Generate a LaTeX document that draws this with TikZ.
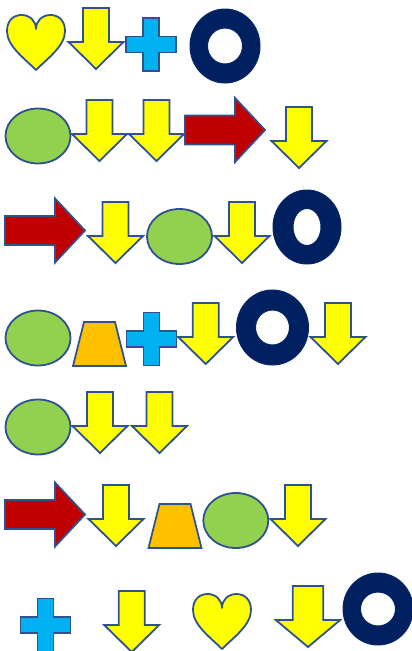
\documentclass[tikz,border=0pt]{standalone}
\definecolor{edge}{HTML}{2F528F}
\definecolor{arrowyellow}{HTML}{FFFF00}
\definecolor{crossblue}{HTML}{00B0F0}
\definecolor{ringblue}{HTML}{002060}
\definecolor{blobgreen}{HTML}{92D050}
\definecolor{arrowred}{HTML}{C00000}
\definecolor{trapgold}{HTML}{FFC000}
\begin{document}
\begin{tikzpicture}[x=1pt,y=-1pt,line join=miter,
		downarr/.style={draw=edge,line width=1.8pt,fill=arrowyellow},
		rightarr/.style={draw=edge,line width=1.8pt,fill=arrowred},
		crossfill/.style={draw=edge,line width=1.8pt,fill=crossblue},
		blobfill/.style={draw=edge,line width=1.8pt,fill=blobgreen},
		trapfill/.style={draw=edge,line width=1.8pt,fill=trapgold},
		heartfill/.style={draw=edge,line width=1.8pt,fill=arrowyellow,line join=round},
		ringfill/.style={draw=ringblue!85!edge,line width=1pt,fill=ringblue,even odd rule}]
		\useasboundingbox (0,0) rectangle (412,651);
		% shapes, all placed by pixel position (y grows downward)
		\def\darr(#1,#2,#3){\draw[downarr,shift={(#1,#2)},xscale=#3] (-13,0)--(13,0)--(13,34)--(27.5,34)--(0,61)--(-27.5,34)--(-13,34)--cycle;}
		\def\rarr(#1,#2){\draw[rightarr,shift={(#1,#2)}] (0,-14.5)--(50,-14.5)--(50,-32)--(80,0)--(50,32)--(50,14.5)--(0,14.5)--cycle;}
		\def\cross(#1,#2){\draw[crossfill,shift={(#1,#2)}] (-8,-26.5)--(8,-26.5)--(8,-8)--(25,-8)--(25,8)--(8,8)--(8,26.5)--(-8,26.5)--(-8,8)--(-25,8)--(-25,-8)--(-8,-8)--cycle;}
		\def\blob(#1,#2){\draw[blobfill] (#1,#2) ellipse[x radius=32.5,y radius=27.5];}
		\def\trap(#1,#2){\draw[trapfill,shift={(#1,#2)}] (-15.5,0)--(15.5,0)--(26.5,44)--(-26.5,44)--cycle;}
		\def\heart(#1,#2){\draw[heartfill,shift={(#1,#2)}] (0,55) .. controls (-12,43) and (-29,31) .. (-29,16) .. controls (-29,5) and (-22,0) .. (-14.5,0) .. controls (-6,0) and (0,6) .. (0,14) .. controls (0,6) and (6,0) .. (14.5,0) .. controls (22,0) and (29,5) .. (29,16) .. controls (29,31) and (12,43) .. (0,55) -- cycle;}
		\def\ring(#1,#2,#3,#4,#5,#6){\filldraw[ringfill] (#1,#2) ellipse[x radius=#3,y radius=#4] (#1,#2) ellipse[x radius=#5,y radius=#6];}
		% row 1
		\heart(36,15)
		\darr(96,8,1)
		\cross(151,44.5)
		\ring(225,46,35,37,17.5,18)
		% row 2
		\blob(38,136)
		\darr(99.5,100,1)
		\darr(156.5,100,1)
		\rarr(185,130)
		\darr(299,107,1)
		% row 3
		\rarr(5,230.5)
		\darr(115.5,202,1)
		\blob(179.5,236.5)
		\darr(242,202,1)
		\ring(307,227,34,37,14,18.5)
		% row 4
		\blob(38,338)
		\trap(99.5,322)
		\cross(151.5,339)
		\darr(205.7,303,1)
		\ring(272.5,327.5,36,37.5,17,17.5)
		\darr(338,303,1)
		% row 5
		\blob(38,427)
		\darr(100,392,1)
		\darr(159.5,392,1)
		% row 6
		\rarr(5,514.5)
		\darr(116,485,1)
		\trap(175,504)
		\blob(235.8,520.5)
		\darr(298,485,1)
		% row 7
		\cross(45.5,625)
		\darr(131.7,591,1)
		\heart(222,594)
		\darr(308,586,1.17)
		\ring(378,609,35,36,17.5,17)
\end{tikzpicture}
\end{document}
